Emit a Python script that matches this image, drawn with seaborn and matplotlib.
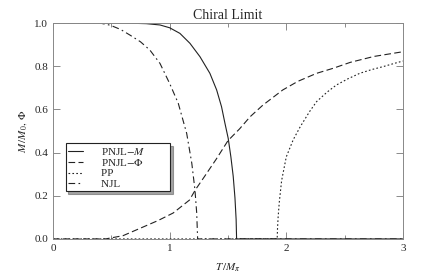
import numpy as np
import pandas as pd
import seaborn as sns
import matplotlib
matplotlib.use('Agg')
import matplotlib.pyplot as plt
from matplotlib.ticker import MultipleLocator, FormatStrFormatter

sns.set_theme(style='ticks')
plt.rcParams['font.family'] = ['Liberation Serif', 'DejaVu Serif']
plt.rcParams['mathtext.fontset'] = 'stix'

# PNJL - M (solid)
t_pnjl_m = [0, 0.6, 0.8, 0.917, 1.0, 1.088, 1.174, 1.26, 1.345, 1.403, 1.445, 1.474, 1.502,
            1.525, 1.545, 1.56, 1.57, 1.574, 3.0]
m_pnjl_m = [1, 1, 0.997, 0.991, 0.978, 0.952, 0.906, 0.844, 0.767, 0.69, 0.612, 0.536, 0.466,
            0.38, 0.29, 0.19, 0.09, 0, 0]

# PNJL - Phi (dashed)
t_pnjl_phi = [0, 0.45, 0.6, 0.75, 0.9, 1.03, 1.17, 1.22, 1.3, 1.4, 1.5, 1.6, 1.69, 1.8, 1.97,
              2.1, 2.26, 2.4, 2.55, 2.75, 3.0]
m_pnjl_phi = [0, 0, 0.015, 0.05, 0.085, 0.12, 0.18, 0.227, 0.29, 0.37, 0.455, 0.51, 0.566, 0.62,
              0.69, 0.73, 0.767, 0.79, 0.818, 0.845, 0.867]

# PP (dotted)
t_pp = [0, 1.922, 1.925, 1.93, 1.94, 1.96, 2.0, 2.06, 2.12, 2.2, 2.26, 2.35, 2.43, 2.53, 2.63,
        2.73, 2.83, 2.92, 3.0]
m_pp = [0, 0, 0.05, 0.1, 0.17, 0.27, 0.38, 0.46, 0.52, 0.59, 0.636, 0.68, 0.713, 0.742, 0.767,
        0.784, 0.798, 0.812, 0.824]

# NJL (dash-dot)
t_njl = [0, 0.4, 0.49, 0.58, 0.66, 0.75, 0.83, 0.917, 1.0, 1.074, 1.146, 1.19, 1.217, 1.232, 1.24, 3.0]
m_njl = [1, 1, 0.99, 0.97, 0.944, 0.913, 0.875, 0.813, 0.72, 0.628, 0.489, 0.35, 0.227, 0.12, 0, 0]

series = [
    ('PNJL$-M$', t_pnjl_m, m_pnjl_m, '-'),
    ('PNJL$-\\Phi$', t_pnjl_phi, m_pnjl_phi, (0, (6, 3))),
    ('PP', t_pp, m_pp, (0, (1.5, 2))),
    ('NJL', t_njl, m_njl, (0, (6, 3, 1.5, 3))),
]

fig = plt.figure(figsize=(4.36, 2.74), dpi=100)
ax = fig.add_axes([0.1216, 0.128, 0.8025, 0.788])

for name, t, m, ls in series:
    df = pd.DataFrame({'T': t, 'M': m})
    sns.lineplot(data=df, x='T', y='M', ax=ax, color='#222222', lw=0.8,
                 linestyle=ls, label=name + '         ', estimator=None, sort=False)

ax.set_xlim(0, 3)
ax.set_ylim(0, 1)
ax.xaxis.set_major_locator(MultipleLocator(1))
ax.xaxis.set_minor_locator(MultipleLocator(0.5))
ax.yaxis.set_major_locator(MultipleLocator(0.2))
ax.yaxis.set_major_formatter(FormatStrFormatter('%.1f'))
ax.xaxis.set_major_formatter(FormatStrFormatter('%d'))
ax.tick_params(which='both', direction='in', top=True, right=True,
               labelsize=8, color='#777777', width=0.6)
ax.tick_params(which='major', length=5)
ax.tick_params(which='minor', length=3)
for sp in ax.spines.values():
    sp.set_color('#888888')
    sp.set_linewidth(0.7)

ax.set_title('Chiral Limit', fontsize=10, pad=3)
ax.set_xlabel('$T\\,/M_\\pi$', fontsize=8, labelpad=6)
ax.set_ylabel('$M\\,/M_0,\\,\\Phi$', fontsize=8, labelpad=4)

leg = ax.legend(loc='lower left', bbox_to_anchor=(0.036, 0.222), borderaxespad=0,
                fontsize=8, handlelength=1.4, handletextpad=1.6, labelspacing=0.05,
                frameon=True, fancybox=False, shadow=True, borderpad=0.2)
leg.get_frame().set_edgecolor('#222222')
leg.get_frame().set_linewidth(0.8)

fig.savefig('out.png', dpi=100)
